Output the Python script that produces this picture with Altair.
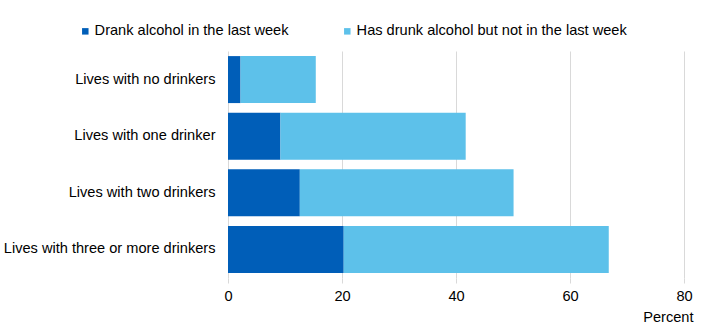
import altair as alt
import pandas as pd

categories = ["Lives with no drinkers", "Lives with one drinker",
              "Lives with two drinkers", "Lives with three or more drinkers"]
series = ["Drank alcohol in the last week", "Has drunk alcohol but not in the last week"]
last_week = [2.2, 9.2, 12.6, 20.3]
not_last_week = [13.2, 32.5, 37.5, 46.5]
colors = ["#005EB8", "#5DC1EA"]

rows = []
for c, a, b in zip(categories, last_week, not_last_week):
    rows.append({"cat": c, "series": series[0], "value": a, "ord": 0})
    rows.append({"cat": c, "series": series[1], "value": b, "ord": 1})
df = pd.DataFrame(rows)

FONT = "Liberation Sans"
FS = 14.6

chart = alt.Chart(df).mark_bar().encode(
    y=alt.Y("cat:N", sort=categories,
            scale=alt.Scale(paddingInner=0.17, paddingOuter=0.09),
            axis=alt.Axis(title=None, ticks=False, domain=False, labelPadding=13,
                          labelFontSize=FS, labelFont=FONT, labelColor="#000000",
                          labelLimit=300)),
    x=alt.X("value:Q", stack="zero",
            scale=alt.Scale(domain=[0, 80], nice=False),
            axis=alt.Axis(values=[0, 20, 40, 60, 80], title="Percent", domain=False,
                          grid=True, gridColor="#d9d9d9", tickColor="#d9d9d9",
                          tickSize=5, labelPadding=5, labelFontSize=FS, labelFont=FONT,
                          labelFlush=False,
                          labelColor="#000000", titleFont=FONT, titleFontSize=FS,
                          titleFontWeight="normal", titleColor="#000000",
                          titleAnchor="end", titleAlign="right", titleX=465, titleY=43,
                          titleBaseline="alphabetic")),
    color=alt.Color("series:N", sort=series,
                    scale=alt.Scale(domain=series, range=colors),
                    legend=alt.Legend(title=None, orient="none", direction="horizontal",
                                      legendX=-150, legendY=-27, symbolType="square",
                                      symbolSize=42, symbolStrokeWidth=0, labelOffset=2,
                                      columnPadding=51, labelFont=FONT, labelFontSize=FS,
                                      labelColor="#000000", labelLimit=400)),
    order=alt.Order("ord:Q"),
).properties(
    width=456, height=227,
    autosize=alt.AutoSizeParams(type="none"),
    padding={"left": 228, "top": 51, "right": 26, "bottom": 47},
).configure_view(stroke=None)

chart.save("out.html", embed_options={"renderer": "svg", "actions": False})
